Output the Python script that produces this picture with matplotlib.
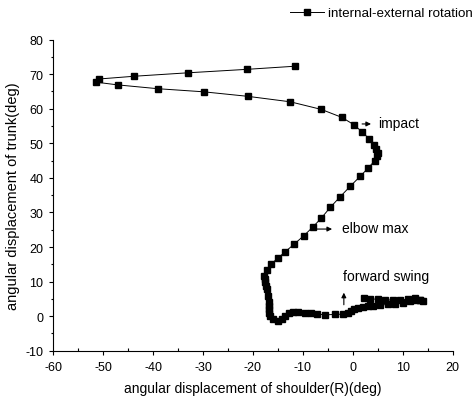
import matplotlib
matplotlib.use('Agg')
import matplotlib.pyplot as plt
from matplotlib.ticker import MultipleLocator

plt.rcParams['font.family'] = ['Liberation Sans', 'DejaVu Sans']
plt.rcParams['axes.unicode_minus'] = False

# shoulder internal-external rotation (x) vs trunk rotation (y), degrees
shoulder = [-11.6, -21.2, -33.0, -43.8, -50.9, -51.5,
            -47.1, -39.1, -29.9, -21.1, -12.5, -6.3, -2.2, 0.3,
            1.9, 3.3, 4.3, 4.7, 5.0, 4.9, 4.4, 3.1, 1.5, -0.5,
            -2.5, -4.5, -6.3, -8.0, -9.8, -11.7, -13.5, -15.0,
            -16.3, -17.2, -17.7, -17.6, -17.5, -17.3, -17.1, -16.9,
            -16.8, -16.8, -16.8, -16.7, -16.6, -16.0, -15.0, -14.1,
            -13.5, -12.8, -12.0, -11.0, -9.5, -8.3, -7.2, -5.5,
            -3.5, -2.0, -1.0, -0.3, 0.2, 1.0, 2.0, 3.0, 4.0, 5.5,
            7.0, 8.5, 10.0, 11.5, 12.5, 13.5, 14.0, 13.5, 12.5, 11.0,
            9.5, 8.0, 6.5, 5.0, 3.5, 2.2]
trunk = [72.3, 71.4, 70.4, 69.4, 68.6, 67.7,
         66.9, 65.8, 64.9, 63.6, 62.0, 59.8, 57.5, 55.3,
         53.2, 51.3, 49.6, 48.4, 47.1, 46.4, 45.0, 42.9, 40.5, 37.6,
         34.6, 31.5, 28.4, 25.8, 23.3, 20.9, 18.7, 16.8,
         15.2, 13.5, 11.7, 10.7, 9.8, 8.8, 7.8, 5.9,
         4.0, 3.0, 2.0, 1.0, 0.1, -0.8, -1.3, -0.8,
         0.1, 0.8, 1.1, 1.1, 1.0, 0.8, 0.6, 0.4,
         0.5, 0.6, 0.8, 1.5, 2.2, 2.5, 2.7, 2.9, 3.0, 3.2,
         3.4, 3.6, 3.9, 4.3, 4.6, 4.6, 4.4, 4.8, 5.2, 5.0,
         4.6, 4.6, 4.8, 4.9, 5.0, 5.2]

fig = plt.figure(figsize=(4.76, 4.02), dpi=100)
ax = fig.add_axes([0.112, 0.125, 0.839, 0.774])

ax.plot(shoulder, trunk, color='k', lw=0.7, marker='s', ms=4.5,
        label='internal-external rotation')

# annotations
arrow = dict(arrowstyle='-|>', color='k', lw=0.8, mutation_scale=7)
ax.annotate('', xy=(4.2, 55.6), xytext=(1.3, 55.6), arrowprops=arrow)
ax.text(5.1, 56.0, 'impact', fontsize=10, va='center', ha='left')
ax.annotate('', xy=(-3.6, 25.2), xytext=(-7.9, 25.2), arrowprops=arrow)
ax.text(-2.2, 25.4, 'elbow max', fontsize=10, va='center', ha='left')
ax.annotate('', xy=(-1.8, 7.6), xytext=(-1.8, 2.5), arrowprops=arrow)
ax.text(-2.0, 11.7, 'forward swing', fontsize=10, va='center', ha='left')

ax.set_xlim(-60, 20)
ax.set_ylim(-10, 80)
ax.xaxis.set_major_locator(MultipleLocator(10))
ax.xaxis.set_minor_locator(MultipleLocator(5))
ax.yaxis.set_major_locator(MultipleLocator(10))
ax.yaxis.set_minor_locator(MultipleLocator(5))
ax.tick_params(which='major', direction='out', length=3.2, width=0.8, labelsize=9, pad=4)
ax.tick_params(axis='y', which='minor', direction='out', length=1.6, width=0.8)
ax.tick_params(axis='x', which='minor', direction='in', length=2, width=0.8)
ax.spines['top'].set_visible(False)
ax.spines['right'].set_visible(False)
ax.set_xlabel('angular displacement of shoulder(R)(deg)', fontsize=10, labelpad=6)
ax.set_ylabel('angular displacement of trunk(deg)', fontsize=10.5, labelpad=4)

fig.legend(loc='upper right', bbox_to_anchor=(1.018, 1.01), frameon=False,
           fontsize=9.6, handlelength=2.5, handletextpad=0.3)

fig.savefig('out.png', dpi=100)
